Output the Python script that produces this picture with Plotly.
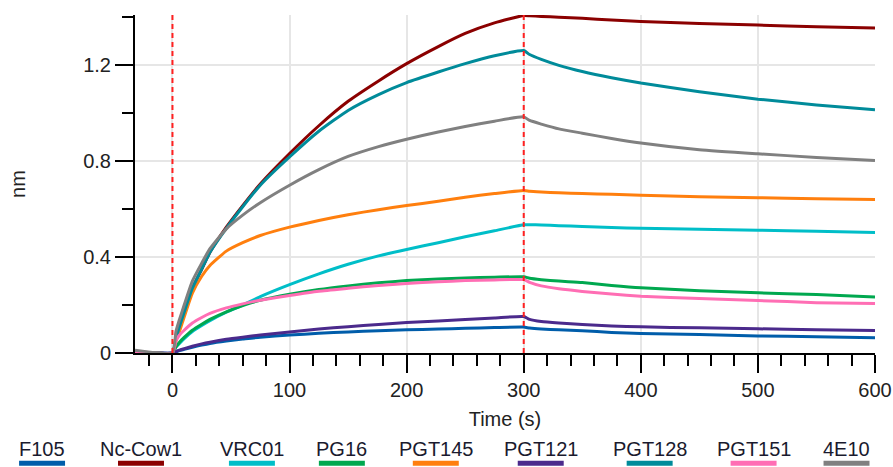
import plotly.graph_objects as go

# ---------------- data ----------------
time_s = [-32, -15, 0, 3, 6, 10, 17, 25, 32, 46, 60, 75, 100, 125, 150, 176, 200, 227, 250, 275,
          300, 305, 315, 330, 350, 375, 400, 450, 500, 550, 600]

series_names = ["F105", "Nc-Cow1", "VRC01", "PG16", "PGT145", "PGT121", "PGT128", "PGT151", "4E10"]

f105 = [0.0, 0.0, 0.0, 0.005, 0.01, 0.015, 0.024, 0.033, 0.04, 0.05, 0.058, 0.066, 0.075, 0.082, 0.088,
        0.093, 0.097, 0.1, 0.103, 0.106, 0.108, 0.104, 0.1, 0.097, 0.093, 0.086, 0.081, 0.077, 0.071,
        0.068, 0.064]
nc_cow1 = [0.005, 0.0, 0.0, 0.06, 0.11, 0.17, 0.27, 0.35, 0.42, 0.525, 0.615, 0.705, 0.832, 0.948, 1.05,
           1.135, 1.207, 1.278, 1.333, 1.377, 1.408, 1.407, 1.404, 1.401, 1.396, 1.389, 1.383, 1.375,
           1.368, 1.361, 1.356]
vrc01 = [0.0, 0.0, 0.0, 0.025, 0.04, 0.06, 0.09, 0.115, 0.135, 0.17, 0.2, 0.235, 0.285, 0.33, 0.37,
         0.405, 0.432, 0.46, 0.485, 0.51, 0.535, 0.535, 0.534, 0.531, 0.528, 0.524, 0.52, 0.516, 0.512,
         0.508, 0.503]
pg16 = [0.0, 0.0, 0.0, 0.025, 0.045, 0.065, 0.095, 0.12, 0.14, 0.172, 0.198, 0.22, 0.245, 0.265, 0.28,
        0.293, 0.302, 0.309, 0.313, 0.316, 0.318, 0.312, 0.306, 0.3, 0.294, 0.282, 0.272, 0.26, 0.251,
        0.244, 0.234]
pgt145 = [0.0, 0.0, 0.0, 0.05, 0.09, 0.15, 0.25, 0.32, 0.365, 0.425, 0.46, 0.49, 0.525, 0.553, 0.577,
          0.598, 0.615, 0.633, 0.65, 0.665, 0.678, 0.675, 0.672, 0.668, 0.665, 0.662, 0.658, 0.652, 0.648,
          0.643, 0.64]
pgt121 = [0.0, 0.0, 0.0, 0.006, 0.012, 0.018, 0.028, 0.038, 0.045, 0.057, 0.066, 0.075, 0.088, 0.1,
          0.11, 0.119, 0.127, 0.134, 0.14, 0.146, 0.152, 0.14, 0.131, 0.125, 0.119, 0.113, 0.109, 0.105,
          0.101, 0.097, 0.094]
pgt128 = [0.0, 0.0, 0.0, 0.06, 0.11, 0.17, 0.27, 0.35, 0.42, 0.52, 0.61, 0.7, 0.818, 0.925, 1.012, 1.078,
          1.128, 1.172, 1.207, 1.24, 1.262, 1.245, 1.225, 1.2, 1.174, 1.148, 1.126, 1.09, 1.059, 1.035,
          1.015]
pgt151 = [0.0, 0.0, 0.0, 0.05, 0.075, 0.095, 0.125, 0.148, 0.165, 0.188, 0.205, 0.22, 0.24, 0.258, 0.27,
          0.282, 0.29, 0.297, 0.302, 0.305, 0.306, 0.295, 0.28, 0.268, 0.257, 0.246, 0.237, 0.227,
          0.219, 0.21, 0.206]
e4e10 = [0.012, 0.002, 0.0, 0.09, 0.14, 0.2, 0.3, 0.375, 0.435, 0.518, 0.575, 0.627, 0.7, 0.765, 0.82,
         0.861, 0.892, 0.922, 0.945, 0.967, 0.985, 0.97, 0.955, 0.935, 0.917, 0.895, 0.876, 0.848, 0.831,
         0.816, 0.803]

series_values = [f105, nc_cow1, vrc01, pg16, pgt145, pgt121, pgt128, pgt151, e4e10]
phase_marks = [0, 300]

x_tick_vals = [0, 100, 200, 300, 400, 500, 600]
y_tick_vals = [0, 0.4, 0.8, 1.2]

# ---------------- style ----------------
colors = ["#005DAA", "#8B0000", "#00BEC8", "#00A84F", "#FF7F0E", "#4B2A8C", "#008B9A", "#FF6EB4", "#808080"]
FONT = "Liberation Sans, Arial, sans-serif"
W, H = 893, 467
ML, MR, MT, MB = 135, 17.5, 15, 113.5
PW = W - ML - MR
PH = H - MT - MB

fig = go.Figure()
for name, vals, col in zip(series_names, series_values, colors):
    fig.add_trace(go.Scatter(x=time_s, y=vals, mode="lines", name=name,
                             line=dict(color=col, width=3, shape="spline", smoothing=0.5),
                             showlegend=False))

for xm in phase_marks:
    fig.add_shape(type="line", x0=xm, x1=xm, xref="x", y0=0, y1=1, yref="paper",
                  line=dict(color="#FF2020", width=2, dash="5px,4px"), layer="above")

# custom legend: label above, swatch below
legend_text_px = [42, 141, 252, 342, 436, 541, 650, 754, 847]
legend_text_y = 450
legend_swatch_y = 464
swatch_w = 46
for name, col, cx in zip(series_names, colors, legend_text_px):
    xp = (cx - ML) / PW
    fig.add_annotation(x=xp, xref="paper", y=(H - MB - legend_text_y) / PH, yref="paper",
                       text=name, showarrow=False, xanchor="center", yanchor="middle",
                       font=dict(family=FONT, size=20, color="#1a1a2e"))
    fig.add_shape(type="line", xref="paper", yref="paper",
                  x0=(cx - swatch_w / 2 - ML) / PW, x1=(cx + swatch_w / 2 - ML) / PW,
                  y0=(H - MB - legend_swatch_y) / PH, y1=(H - MB - legend_swatch_y) / PH,
                  line=dict(color=col, width=5))

axis_common = dict(
    showline=True, linecolor="black", linewidth=2,
    ticks="outside", ticklen=18, tickwidth=2, tickcolor="black",
    showgrid=True, gridcolor="#E6E6E6", gridwidth=1.5,
    zeroline=False,
    tickfont=dict(family=FONT, size=20, color="#222"),
)

fig.update_xaxes(range=[-32, 600], tickvals=x_tick_vals,
                 minor=dict(dtick=20, tick0=0, ticklen=11, tickwidth=2, tickcolor="black",
                            ticks="outside", showgrid=False),
                 title=dict(text="Time (s)", font=dict(family=FONT, size=20, color="#222"), standoff=12),
                 automargin=False, **axis_common)
fig.update_yaxes(range=[0, 1.41], tickvals=y_tick_vals, ticktext=["0", "0.4", "0.8", "1.2"],
                 minor=dict(dtick=0.2, tick0=0, ticklen=11, tickwidth=2, tickcolor="black",
                            ticks="outside", showgrid=False),
                 title=dict(text="nm", font=dict(family=FONT, size=20, color="#222"), standoff=52),
                 automargin=False, **axis_common)

fig.update_layout(width=W, height=H, margin=dict(l=ML, r=MR, t=MT, b=MB),
                  plot_bgcolor="white", paper_bgcolor="white", showlegend=False)

fig.write_html("out.html", config={"displayModeBar": False},
               post_script="document.body.style.margin='0';document.body.style.overflow='hidden';")
